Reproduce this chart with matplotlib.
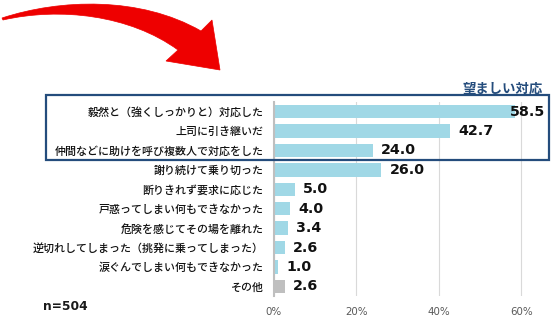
import matplotlib
matplotlib.use("Agg")
import matplotlib.pyplot as plt
from matplotlib.path import Path
from matplotlib.patches import PathPatch, Rectangle

plt.rcParams['font.family'] = ['Noto Sans CJK JP', 'DejaVu Sans']

categories = [
    "毅然と（強くしっかりと）対応した",
    "上司に引き継いだ",
    "仲間などに助けを呼び複数人で対応をした",
    "謝り続けて乗り切った",
    "断りきれず要求に応じた",
    "戸惑ってしまい何もできなかった",
    "危険を感じてその場を離れた",
    "逆切れしてしまった（挑発に乗ってしまった）",
    "涙ぐんでしまい何もできなかった",
    "その他",
]
values = [58.5, 42.7, 24.0, 26.0, 5.0, 4.0, 3.4, 2.6, 1.0, 2.6]
xticks = [0, 20, 40, 60]
xtick_labels = ["0%", "20%", "40%", "60%"]
sample_label = "n=504"
box_title = "望ましい対応"

W, H = 554, 323
fig = plt.figure(figsize=(W / 100, H / 100), dpi=100)

ax_left, ax_right, ax_top, ax_bottom = 274, 542, 102, 296
ax = fig.add_axes([ax_left / W, 1 - ax_bottom / H,
                   (ax_right - ax_left) / W, (ax_bottom - ax_top) / H])

xmax = 65
colors = ["#A0D8E6"] * (len(values) - 1) + ["#BFBFBF"]
ypos = list(range(len(values)))
ax.barh(ypos, values, height=0.7, color=colors, zorder=2)
ax.set_ylim(len(values) - 0.5, -0.5)
ax.set_xlim(0, xmax)

ax.set_xticks(xticks)
ax.set_xticklabels(xtick_labels, family='DejaVu Sans', fontsize=7.4, color='#595959')
ax.tick_params(axis='x', length=0, pad=8)
ax.set_yticks(ypos)
ax.set_yticklabels(categories, fontsize=7.9, color='#111111', fontweight='medium')
ax.tick_params(axis='y', length=0, pad=7.5)
for s in ['top', 'right', 'bottom']:
    ax.spines[s].set_visible(False)
ax.spines['left'].set_color('#BFBFBF')
ax.spines['left'].set_linewidth(1.5)
ax.spines['left'].set_zorder(3)
ax.grid(axis='x', color='#D9D9D9', linewidth=0.8, zorder=0)
ax.set_axisbelow(True)

# value labels to the right of each bar, pulled inside when near the edge
for y, v in zip(ypos, values):
    if v > 56:
        ax.text(xmax + 0.8, y, f"{v:.1f}", ha='right', va='center',
                family='DejaVu Sans', fontweight='bold', fontsize=10.3,
                color='#111111', zorder=4)
    else:
        ax.annotate(f"{v:.1f}", xy=(v, y), xytext=(6, 0), textcoords='offset points',
                    ha='left', va='center', family='DejaVu Sans', fontweight='bold',
                    fontsize=10.3, color='#111111', zorder=4)

# overlay in pixel coordinates for the box, captions and arrow
ov = fig.add_axes([0, 0, 1, 1])
ov.set_xlim(0, W)
ov.set_ylim(H, 0)
ov.axis('off')
ov.patch.set_alpha(0)

ov.add_patch(Rectangle((46, 95), 503, 65, fill=False, edgecolor='#244C7C', linewidth=1.6))
ov.text(543, 89, box_title, ha='right', va='center', fontsize=9.6,
        fontweight='bold', color='#244C7C')
ov.text(43, 306, sample_label, ha='left', va='center', family='DejaVu Sans',
        fontweight='bold', fontsize=8.8, color='#1A1A1A')

verts = [
    (2, 18),
    (60, -1), (140, -4), (201, 31),
    (212, 20),
    (220, 70),
    (166, 61),
    (178, 50),
    (130, 15), (60, 7), (3, 20),
    (2, 18),
]
codes = [Path.MOVETO,
         Path.CURVE4, Path.CURVE4, Path.CURVE4,
         Path.LINETO, Path.LINETO, Path.LINETO, Path.LINETO,
         Path.CURVE4, Path.CURVE4, Path.CURVE4,
         Path.CLOSEPOLY]
ov.add_patch(PathPatch(Path(verts, codes), facecolor='#EE0000', edgecolor='#EE0000',
                       linewidth=0.5))

fig.savefig("out.png", dpi=100)
